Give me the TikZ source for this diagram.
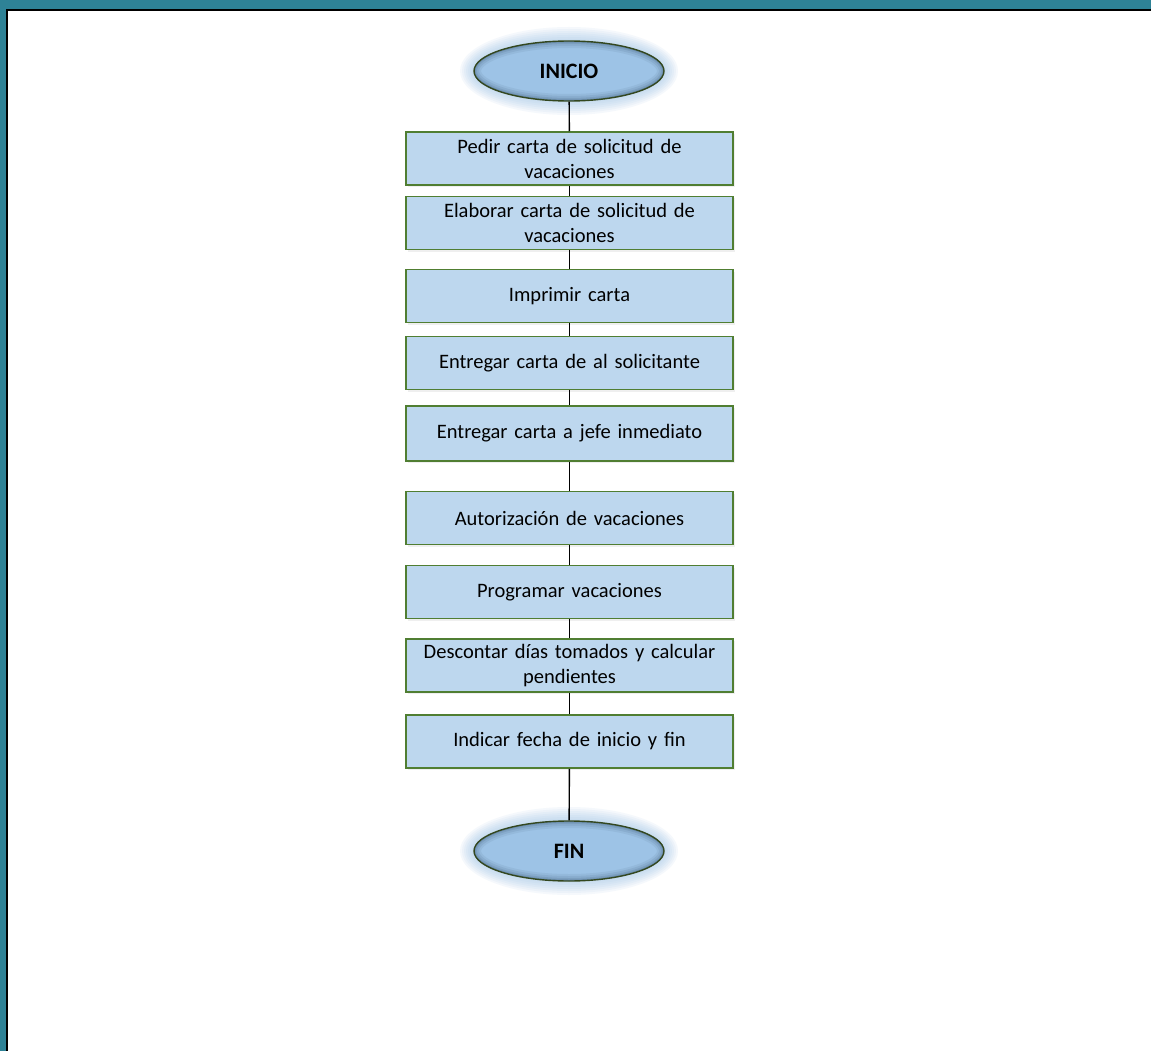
\documentclass[tikz,border=0pt]{standalone}
\usepackage{fontspec}
\setmainfont{Carlito}[WordSpace=0.7]
\usepackage{tikz}
\usetikzlibrary{shapes.geometric, shadows}

\definecolor{frameteal}{HTML}{2E8296}
\definecolor{boxblue}{HTML}{BDD7EE}
\definecolor{boxgreen}{HTML}{507E32}
\definecolor{ovalblue}{HTML}{9DC3E6}
\definecolor{ovalshade}{HTML}{2F4A66}
\definecolor{ovalline}{HTML}{33471F}
\definecolor{glowblue}{HTML}{9DC3E6}

\tikzset{
  stepbox/.style={draw=boxgreen, line width=1.5pt, fill=boxblue,
    minimum width=327pt, minimum height=53pt, text width=315pt, align=center,
    font=\fontsize{20.5}{25}\selectfont,
    drop shadow={opacity=0.12, shadow xshift=2pt, shadow yshift=-2pt}},
  terminal/.style={ellipse, draw=ovalline, line width=1.4pt,
    minimum width=190pt, minimum height=60pt, fill=ovalblue,
    font=\fontsize{22}{26}\selectfont\bfseries,
    path picture={
      \foreach \w/\o in {14/0.08, 10/0.1, 6/0.14, 3/0.2}
        \draw[ovalshade, line width=\w pt, opacity=\o]
          (path picture bounding box.center) ellipse (95 and 30);
    }},
  link/.style={draw=black, line width=1.4pt}
}

\begin{document}
\begin{tikzpicture}[x=1pt, y=-1pt]

\useasboundingbox (0,0) rectangle (1151,1051);

% frame
\fill[frameteal] (0,0) rectangle (1151,1051);
\fill[white] (7,10) rectangle (1151,1051);
\draw[black, line width=1.5pt] (7,1051) -- (7,10) -- (1151,10);

% glow behind the two ovals
\foreach \yc in {71, 851} {
  \foreach \g in {14,12,...,2} {
    \fill[glowblue, opacity=0.1] (569,\yc) ellipse ({95+\g} and {30+\g});
  }
}

\node[terminal] (inicio) at (569,71) {INICIO};

\node[stepbox] (pedir) at (569.5,158.5) {Pedir carta de solicitud de\\ vacaciones};
\node[stepbox] (elaborar) at (569.5,223) {Elaborar carta de solicitud de\\ vacaciones};
\node[stepbox] (imprimir) at (569.5,296) {Imprimir carta};
\node[stepbox] (entregar) at (569.5,363) {Entregar carta de al solicitante};
\node[stepbox, minimum height=55pt] (jefe) at (569.5,433.5) {Entregar carta a jefe inmediato};
\node[stepbox] (autoriza) at (569.5,518) {Autorización de vacaciones};
\node[stepbox] (programar) at (569.5,592) {Programar vacaciones};
\node[stepbox] (descontar) at (569.5,665.5) {Descontar días tomados y calcular\\ pendientes};
\node[stepbox] (indicar) at (569.5,741.5) {Indicar fecha de inicio y fin};

\node[terminal] (fin) at (569,851) {FIN};

% connectors
\draw[link] (inicio) -- (pedir);
\draw[link] (pedir) -- (elaborar);
\draw[link] (elaborar) -- (imprimir);
\draw[link] (imprimir) -- (entregar);
\draw[link] (entregar) -- (jefe);
\draw[link] (jefe) -- (autoriza);
\draw[link] (autoriza) -- (programar);
\draw[link] (programar) -- (descontar);
\draw[link] (descontar) -- (indicar);
\draw[link] (indicar) -- (fin);

\end{tikzpicture}
\end{document}
